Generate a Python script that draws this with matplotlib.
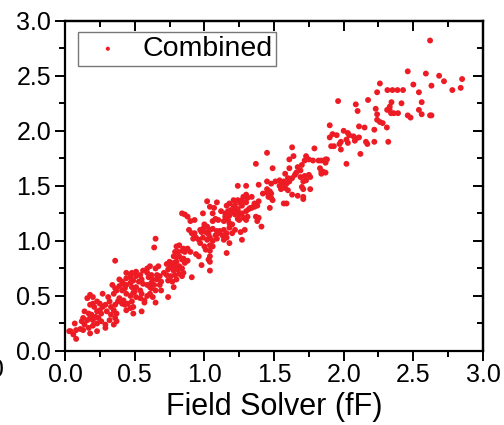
import matplotlib
matplotlib.use("Agg")
import matplotlib.pyplot as plt
from matplotlib.ticker import MultipleLocator

plt.rcParams['font.family'] = ['Liberation Sans', 'DejaVu Sans']

# Field solver (x) vs combined model (y), values in fF
field_solver = [
    2.62, 2.46, 2.59, 2.685, 2.72, 2.85, 2.26, 2.50, 2.63, 2.78, 2.84,
    2.314, 2.350, 2.386, 2.426, 2.24, 2.54, 1.96, 2.175, 2.087, 2.10,
    2.343, 2.331, 2.312, 2.415, 2.56, 2.23, 2.34, 2.36, 2.39, 2.33, 2.54,
    2.56, 2.62, 2.63, 2.46, 2.48, 2.24, 2.24, 2.26, 2.28, 2.22, 2.31,
    1.90, 2.11, 2.15, 2.00, 1.92, 1.95, 1.90, 2.03, 2.04, 2.07, 2.09,
    2.08, 2.11, 2.02, 2.03, 1.98, 1.97, 2.16, 2.17, 2.22, 2.32, 1.91,
    1.93, 1.98, 2.12, 2.02, 1.63, 1.79, 1.45, 1.64, 1.61, 1.73, 1.75,
    1.72, 1.78, 1.82, 1.84, 1.87, 1.88, 1.87, 1.37, 1.70, 1.67, 1.69,
    1.83, 1.84, 1.85, 1.87, 1.84, 1.49, 1.61, 1.58, 1.66, 1.65, 1.69,
    1.72, 1.75, 1.76, 1.73, 1.71, 1.60, 1.63, 1.61, 1.51, 1.54, 1.57,
    1.59, 1.45, 1.48, 1.54, 1.56, 1.58, 1.55, 1.60, 1.24, 1.30, 1.39,
    1.45, 1.47, 1.42, 1.70, 1.71, 1.76, 1.67, 1.71, 1.71, 1.63, 1.48,
    1.49, 1.57, 1.59, 1.47, 1.02, 1.09, 1.21, 1.24, 1.28, 1.30, 1.31,
    1.27, 1.30, 1.34, 1.26, 1.22, 1.18, 1.16, 1.36, 1.39, 1.36, 1.33,
    1.04, 1.07, 1.12, 1.15, 1.17, 1.21, 1.24, 1.22, 1.25, 1.27, 1.30,
    0.84, 0.86, 0.88, 0.99, 0.93, 0.90, 1.06, 1.08, 1.06, 1.10, 1.15,
    1.18, 1.17, 1.14, 1.18, 1.20, 1.18, 1.24, 1.25, 1.28, 1.30, 1.31,
    1.37, 1.39, 1.38, 1.41, 1.29, 1.26, 1.22, 1.20, 1.14, 1.16, 1.13,
    1.16, 1.14, 1.00, 1.02, 0.99, 0.97, 0.98, 1.01, 1.04, 1.03, 1.06,
    1.09, 1.11, 1.10, 1.08, 0.89, 0.91, 0.93, 0.94, 0.92, 0.96, 0.99,
    1.02, 1.04, 1.06, 1.09, 1.27, 1.18, 0.97, 1.00, 1.04, 1.06, 1.01,
    1.04, 0.80, 0.82, 0.85, 0.84, 0.81, 0.86, 0.79, 0.88, 0.90, 1.16,
    0.94, 0.96, 1.04, 1.03, 1.04, 0.78, 0.80, 0.82, 0.85, 0.84, 0.80,
    0.78, 0.75, 0.88, 0.86, 0.73, 0.76, 0.79, 0.82, 0.84, 0.81, 0.78,
    0.74, 0.98, 1.04, 0.71, 0.73, 0.76, 0.79, 0.82, 0.85, 0.84, 0.80,
    0.66, 0.68, 0.66, 0.69, 0.68, 0.91, 0.74, 0.77, 0.78, 0.59, 0.61,
    0.65, 0.67, 0.65, 0.64, 0.36, 0.56, 0.59, 0.60, 0.62, 0.63, 0.54,
    0.55, 0.53, 0.56, 0.59, 0.61, 0.44, 0.47, 0.51, 0.49, 0.47, 0.44,
    0.48, 0.51, 0.54, 0.50, 0.62, 0.65, 0.61, 0.59, 0.63, 0.39, 0.42,
    0.43, 0.41, 0.37, 0.34, 0.36, 0.35, 0.44, 0.47, 0.49, 0.51, 0.54,
    0.57, 0.55, 0.57, 0.65, 0.74, 0.39, 0.42, 0.38, 0.41, 0.43, 0.45,
    0.48, 0.49, 0.47, 0.44, 0.55, 0.49, 0.31, 0.32, 0.29, 0.33, 0.36,
    0.25, 0.27, 0.25, 0.23, 0.26, 0.30, 0.35, 0.37, 0.33, 0.36, 0.32,
    0.37, 0.35, 0.18, 0.20, 0.16, 0.20, 0.18, 0.21, 0.23, 0.27, 0.14,
    0.17, 0.19, 0.22, 0.18, 0.16, 0.20, 0.24, 0.26, 0.23, 0.20, 0.29,
    0.29, 0.13, 0.12, 0.14, 0.17, 0.13, 0.11, 0.18, 0.23, 0.07, 0.08,
    0.04, 0.08, 0.06, 0.03, 0.44, 0.47, 0.39, 0.41, 0.51, 0.48, 0.62,
    0.64, 0.69, 1.21, 1.24, 1.19, 1.21, 1.27, 1.32, 1.34, 1.36, 1.38,
    1.45, 1.48, 1.46,
]
combined = [
    2.82, 2.54, 2.52, 2.50, 2.45, 2.47, 2.43, 2.42, 2.41, 2.37, 2.39,
    2.37, 2.37, 2.37, 2.37, 2.35, 2.35, 2.27, 2.28, 2.24, 2.18,
    2.26, 2.22, 2.19, 2.25, 2.26, 2.20, 2.16, 2.16, 2.16, 2.19, 2.19,
    2.15, 2.14, 2.14, 2.14, 2.12, 2.15, 2.10, 2.08, 2.07, 2.01, 2.03,
    2.05, 2.04, 2.03, 2.00, 1.97, 1.96, 1.94, 1.98, 1.96, 1.95, 1.93,
    1.91, 1.94, 1.92, 1.89, 1.90, 1.88, 1.90, 1.88, 1.90, 1.90, 1.86,
    1.86, 1.83, 1.79, 1.70, 1.85, 1.84, 1.80, 1.77, 1.74, 1.77, 1.74,
    1.73, 1.73, 1.73, 1.73, 1.74, 1.74, 1.71, 1.70, 1.69, 1.67, 1.64,
    1.66, 1.63, 1.63, 1.62, 1.61, 1.66, 1.66, 1.61, 1.62, 1.60, 1.58,
    1.59, 1.60, 1.58, 1.55, 1.54, 1.57, 1.57, 1.54, 1.54, 1.55, 1.54,
    1.52, 1.54, 1.52, 1.50, 1.51, 1.48, 1.47, 1.46, 1.50, 1.50, 1.51,
    1.47, 1.45, 1.43, 1.49, 1.47, 1.47, 1.41, 1.40, 1.38, 1.42, 1.39,
    1.37, 1.34, 1.34, 1.30, 1.36, 1.35, 1.37, 1.37, 1.40, 1.42, 1.39,
    1.37, 1.35, 1.40, 1.34, 1.33, 1.34, 1.32, 1.34, 1.36, 1.31, 1.30,
    1.31, 1.30, 1.27, 1.25, 1.27, 1.28, 1.27, 1.24, 1.24, 1.25, 1.27,
    1.25, 1.24, 1.22, 1.25, 1.19, 1.18, 1.25, 1.20, 1.18, 1.19, 1.22,
    1.23, 1.19, 1.18, 1.16, 1.15, 1.12, 1.20, 1.19, 1.21, 1.19, 1.22,
    1.22, 1.21, 1.18, 1.13, 1.10, 1.08, 1.10, 1.07, 1.10, 1.07, 1.05,
    1.03, 1.01, 1.15, 1.13, 1.11, 1.10, 1.08, 1.08, 1.10, 1.06, 1.11,
    1.09, 1.09, 1.07, 1.05, 1.10, 1.07, 1.07, 1.03, 1.02, 1.01, 1.03,
    1.01, 1.03, 1.00, 1.02, 1.01, 0.98, 0.98, 0.95, 0.96, 0.95, 0.92,
    0.91, 0.95, 0.96, 0.93, 0.91, 0.90, 0.90, 0.90, 0.93, 0.90, 0.89,
    0.88, 0.86, 0.86, 0.83, 0.81, 0.86, 0.85, 0.86, 0.84, 0.83, 0.81,
    0.80, 0.81, 0.82, 0.80, 0.79, 0.77, 0.77, 0.77, 0.75, 0.74, 0.73,
    0.74, 0.78, 0.73, 0.71, 0.69, 0.68, 0.69, 0.70, 0.71, 0.68, 0.65,
    0.69, 0.68, 0.65, 0.63, 0.60, 0.67, 0.64, 0.63, 0.58, 0.75, 0.77,
    0.75, 0.77, 1.02, 0.94, 0.82, 0.73, 0.71, 0.67, 0.69, 0.65, 0.69,
    0.65, 0.63, 0.61, 0.60, 0.58, 0.71, 0.69, 0.68, 0.64, 0.62, 0.60,
    0.58, 0.58, 0.55, 0.54, 0.57, 0.55, 0.52, 0.50, 0.49, 0.59, 0.61,
    0.57, 0.55, 0.55, 0.60, 0.57, 0.52, 0.52, 0.50, 0.53, 0.49, 0.48,
    0.46, 0.52, 0.44, 0.44, 0.49, 0.48, 0.46, 0.45, 0.43, 0.42, 0.43,
    0.45, 0.40, 0.39, 0.37, 0.36, 0.34, 0.49, 0.45, 0.42, 0.40, 0.42,
    0.43, 0.40, 0.37, 0.36, 0.34, 0.36, 0.37, 0.34, 0.33, 0.30, 0.28,
    0.27, 0.24, 0.51, 0.49, 0.48, 0.43, 0.42, 0.40, 0.45, 0.52, 0.36,
    0.34, 0.33, 0.31, 0.30, 0.28, 0.28, 0.30, 0.27, 0.25, 0.23, 0.24,
    0.21, 0.30, 0.27, 0.24, 0.21, 0.19, 0.20, 0.16, 0.18, 0.25, 0.19,
    0.18, 0.11, 0.15, 0.18, 0.66, 0.67, 0.65, 0.63, 0.72, 0.71, 0.62,
    0.60, 0.55, 1.31, 1.29, 1.28, 1.26, 1.32, 1.29, 1.30, 1.33, 1.32,
    1.44, 1.43, 1.40,
]

x_ticks = [0.0, 0.5, 1.0, 1.5, 2.0, 2.5, 3.0]
y_ticks = [0.0, 0.5, 1.0, 1.5, 2.0, 2.5, 3.0]
series_label = "Combined"
x_label = "Field Solver (fF)"

n = min(len(field_solver), len(combined))
red = '#ED1C24'

fig = plt.figure(figsize=(5.04, 4.25), dpi=100)
ax = fig.add_axes([65/504, 1-351/425, 418/504, 330.3/425])

ax.scatter(field_solver[:n], combined[:n], s=18, color=red, edgecolors='none',
           label=series_label, zorder=3)

ax.set_xlim(0, 3.0)
ax.set_ylim(0, 3.0)
ax.set_xticks(x_ticks)
ax.set_yticks(y_ticks)
ax.set_xticklabels([f"{v:.1f}" for v in x_ticks])
ax.set_yticklabels([f"{v:.1f}" for v in y_ticks])
ax.xaxis.set_minor_locator(MultipleLocator(0.25))
ax.yaxis.set_minor_locator(MultipleLocator(0.25))

for s in ax.spines.values():
    s.set_linewidth(1.6)

ax.tick_params(which='both', direction='out', top=False, right=False,
               labelsize=18, width=1.4)
ax.tick_params(which='major', length=7, pad=2)
ax.tick_params(which='minor', length=4)
ax.tick_params(axis='y', which='major', pad=3)

# inward ticks on top and right
ax2 = ax.secondary_xaxis('top')
ax2.set_xticks(x_ticks)
ax2.xaxis.set_minor_locator(MultipleLocator(0.25))
ax2.tick_params(which='both', direction='in', labeltop=False, width=1.4)
ax2.tick_params(which='major', length=7)
ax2.tick_params(which='minor', length=4)
ax2.spines['top'].set_linewidth(1.6)
ax3 = ax.secondary_yaxis('right')
ax3.set_yticks(y_ticks)
ax3.yaxis.set_minor_locator(MultipleLocator(0.25))
ax3.tick_params(which='both', direction='in', labelright=False, width=1.4)
ax3.tick_params(which='major', length=7)
ax3.tick_params(which='minor', length=4)
ax3.spines['right'].set_linewidth(1.6)

ax.set_xlabel(x_label, fontsize=22, labelpad=3)

leg = ax.legend(loc='upper left', bbox_to_anchor=(0.031, 0.966),
                borderaxespad=0, fontsize=20.5, frameon=True, fancybox=False,
                markerscale=0.7, handletextpad=0.3, borderpad=0.15,
                handlelength=1.8)
leg.get_frame().set_edgecolor('#555555')
leg.get_frame().set_linewidth(1.0)

# clipped label remnant at the left edge (cut off in the reference too)
fig.text(4/504, 1-370/425, "3.0", fontsize=18, ha='right', va='center')

fig.savefig("out.png", dpi=100)
